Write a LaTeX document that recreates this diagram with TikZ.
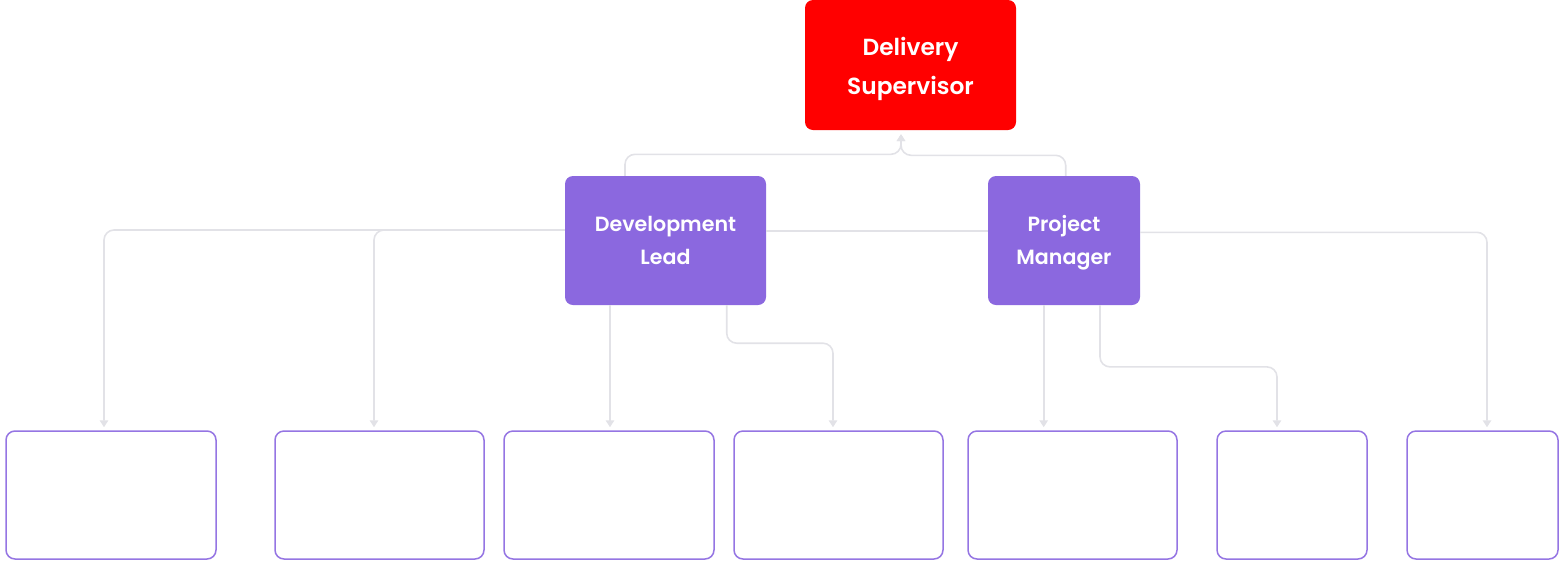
\documentclass[tikz,border=0pt]{standalone}
\usepackage{fontspec}
\setmainfont{Poppins}[UprightFont={* SemiBold}]
\usetikzlibrary{arrows.meta,calc}
\definecolor{dsred}{HTML}{FF0000}
\definecolor{lead}{HTML}{8B68DF}
\definecolor{leafline}{HTML}{9575E3}
\definecolor{conngray}{HTML}{E2E2E7}
\newcommand{\tp}{\raisebox{6pt}{\vphantom{l}}}
\newcommand{\tpbig}{\raisebox{10pt}{\vphantom{l}}}
\newcommand{\bt}{\vphantom{g}}
\tikzset{
  topbox/.style={fill=dsred, draw=none, rounded corners=8pt, minimum width=211pt, minimum height=130pt,
    text=white, align=center, font=\fontsize{23.3}{39}\selectfont, inner sep=0pt},
  midbox/.style={fill=lead, draw=none, rounded corners=8pt, minimum height=129pt,
    text=white, align=center, font=\fontsize{20.6}{33}\selectfont, inner sep=0pt},
  leafbox/.style={fill=white, draw=leafline, line width=1.5pt, rounded corners=9pt, minimum height=128pt, inner sep=0pt},
  conn/.style={draw=conngray, line width=1.6pt, rounded corners=10pt},
  arr/.style={-{Triangle[width=8.5pt,length=7pt]}}
}
\begin{document}
\begin{tikzpicture}[x=1pt,y=-1pt]
\useasboundingbox (0,0) rectangle (1563,582);
\node[topbox] (DS) at (910.5,65) {\tpbig Delivery\\Supervisor\bt};
\node[midbox, minimum width=201pt] (DL) at (665.5,240.5) {\tp Development\\Lead\bt};
\node[midbox, minimum width=152pt] (PM) at (1064,240.5) {\tp Project\\Manager\bt};
\node[leafbox, minimum width=210pt] (b1) at (111,495) {};
\node[leafbox, minimum width=209pt] (b2) at (379.5,495) {};
\node[leafbox, minimum width=210pt] (b3) at (609,495) {};
\node[leafbox, minimum width=209pt] (b4) at (838.5,495) {};
\node[leafbox, minimum width=209pt] (b5) at (1072.5,495) {};
\node[leafbox, minimum width=150pt] (b6) at (1292,495) {};
\node[leafbox, minimum width=151pt] (b7) at (1482.5,495) {};
% up to supervisor
\draw[conn,arr] ($(DL.north)+(-40.5,0)$) -- ++(0,-21.5) -| ($(DS.south)+(-9.5,4)$);
\draw[conn,arr] ($(PM.north)+(1.7,0)$) -- ++(0,-20.5) -| ($(DS.south)+(-9.5,4)$);
% from development lead
\draw[conn,arr] ($(DL.west)+(0,-10.5)$) -| ($(b1.north)+(-7,-3)$);
\draw[conn,arr] ($(DL.west)+(0,-10.5)$) -| ($(b2.north)+(-5.5,-3)$);
\draw[conn] ($(DL.east)+(0,-9.8)$) -- ($(PM.west)+(0,-9.8)$);
\draw[conn,arr] ($(DL.south)+(-55.5,0)$) -- ($(b3.north)+(1,-3)$);
\draw[conn,arr] ($(DL.south)+(61.2,0)$) -- ++(0,38) -| ($(b4.north)+(-5.5,-3)$);
% from project manager
\draw[conn,arr] ($(PM.south)+(-20.3,0)$) -- ($(b5.north)+(-28.8,-3)$);
\draw[conn,arr] ($(PM.south)+(36,0)$) -- ++(0,61.7) -| ($(b6.north)+(-15,-3)$);
\draw[conn,arr] ($(PM.east)+(0,-8.2)$) -| ($(b7.north)+(4.5,-3)$);
\end{tikzpicture}
\end{document}
